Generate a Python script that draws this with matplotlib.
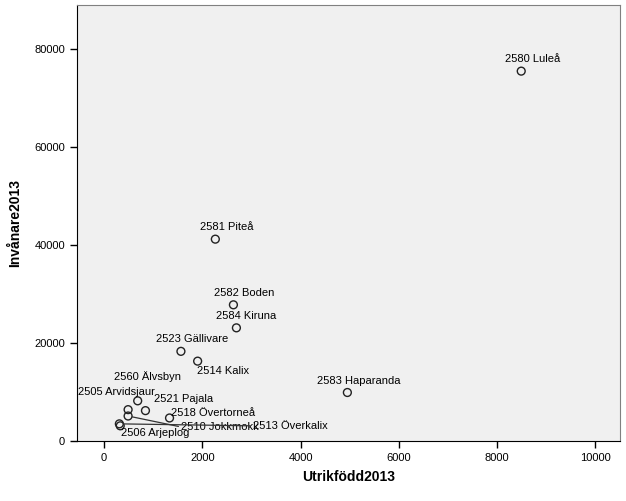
import matplotlib.pyplot as plt

plt.rcParams['font.family'] = ['Liberation Sans', 'DejaVu Sans']

# Data
kommun = ['2580 Luleå', '2581 Piteå', '2582 Boden', '2584 Kiruna', '2523 Gällivare',
          '2514 Kalix', '2583 Haparanda', '2560 Älvsbyn', '2505 Arvidsjaur',
          '2521 Pajala', '2518 Övertorneå', '2510 Jokkmokk', '2513 Överkalix',
          '2506 Arjeplog']
utrikfodd = [8490, 2265, 2633, 2694, 1565, 1905, 4952, 685, 490, 843, 1333, 490, 312, 330]
invanare = [75500, 41200, 27800, 23100, 18300, 16300, 9900, 8200, 6400, 6200, 4700, 5100, 3500, 3100]

# label offsets in pixels (dx, dy) and whether a leader line is drawn
offsets = [(11, 12), (11, 12), (11, 12), (10, 12), (11, 12), (25, -10), (11, 12),
           (10, 24), (-12, 18), (38, 12), (44, 5), (92, -11), (171, -2), (35, -7)]
leader = [False] * 11 + [True, True, False]

fig = plt.figure(figsize=(6.26, 5.01), dpi=100)
ax = fig.add_axes([77 / 626, 60 / 501, 543 / 626, 436 / 501])
ax.set_facecolor('#f0f0f0')

ax.scatter(utrikfodd, invanare, s=32, facecolors='none', edgecolors='#222222',
           linewidths=1, zorder=3)

for name, x, y, off, ld in zip(kommun, utrikfodd, invanare, offsets, leader):
    if ld:
        ax.annotate(name, (x, y), xytext=off, textcoords='offset pixels',
                    ha='center', va='center', fontsize=8,
                    arrowprops=dict(arrowstyle='-', color='#333333', lw=0.9,
                                    relpos=(0, 0.5), shrinkA=0, shrinkB=3))
    else:
        ax.annotate(name, (x, y), xytext=off, textcoords='offset pixels',
                    ha='center', va='center', fontsize=8)

ax.set_xlim(-550, 10500)
ax.set_ylim(0, 89000)
ax.set_xticks([0, 2000, 4000, 6000, 8000, 10000])
ax.set_yticks([0, 20000, 40000, 60000, 80000])
ax.tick_params(direction='out', length=5, width=1, labelsize=8, colors='black')

for side in ['top', 'right']:
    ax.spines[side].set_color('#808080')
for side in ['left', 'bottom']:
    ax.spines[side].set_color('black')

ax.set_xlabel('Utrikfödd2013', fontsize=10, fontweight='bold', labelpad=5)
ax.set_ylabel('Invånare2013', fontsize=10, fontweight='bold', labelpad=9)

fig.savefig('out.png', dpi=100)
